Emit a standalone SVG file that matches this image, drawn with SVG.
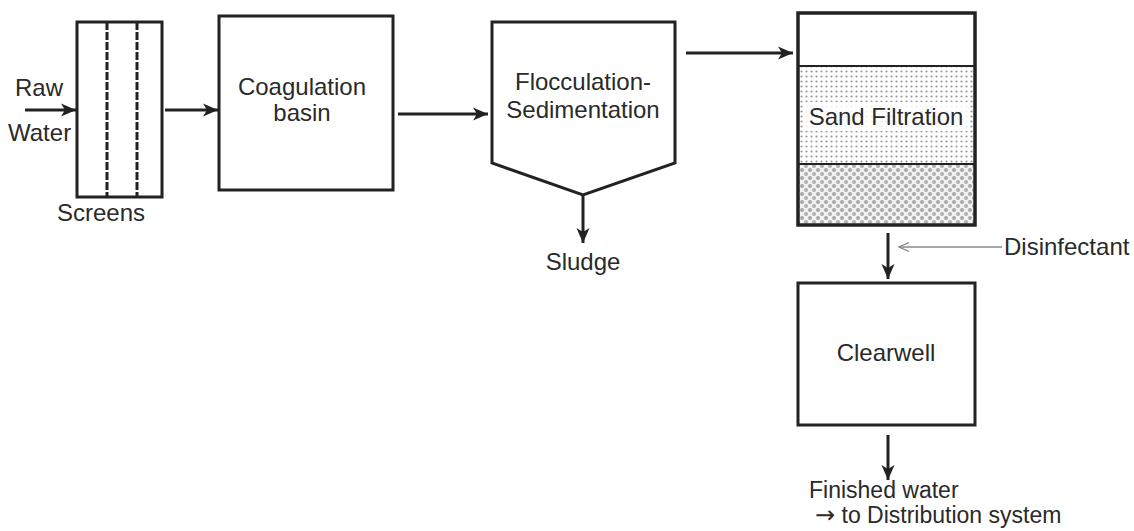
<svg xmlns="http://www.w3.org/2000/svg" width="1134" height="531" viewBox="0 0 1134 531">
<style>
.box{fill:#fff;stroke:#222;stroke-width:3}
.t{font-family:"Liberation Sans",Arial,sans-serif;font-size:24px;fill:#2a2a2a}
.c{text-anchor:middle}
.s{font-size:23px}
.arr{stroke:#222;stroke-width:3;fill:none;marker-end:url(#ah)}
</style>
<defs>
<marker id="ah" markerWidth="16" markerHeight="16" refX="15" refY="8" orient="auto" markerUnits="userSpaceOnUse">
<path d="M0,1.5 L15,8 L0,14.5 L4,8 Z" fill="#222"/>
</marker>
<marker id="open" markerWidth="12" markerHeight="12" refX="10" refY="6" orient="auto" markerUnits="userSpaceOnUse">
<path d="M0,1.5 L10,6 L0,10.5" fill="none" stroke="#888" stroke-width="1.3"/>
</marker>
<pattern id="fine" width="5" height="5" patternUnits="userSpaceOnUse">
<rect width="5" height="5" fill="#fff"/>
<circle cx="1.5" cy="1.5" r="1.1" fill="#999"/>
</pattern>
<pattern id="coarse" width="8" height="8" patternUnits="userSpaceOnUse">
<rect width="8" height="8" fill="#f2f2f2"/>
<circle cx="2" cy="2" r="2" fill="#a8a8a8"/>
<circle cx="6" cy="6" r="2" fill="#b0b0b0"/>
</pattern>
</defs>

<g id="connectors">
<line x1="25" y1="110" x2="76" y2="110" class="arr"/>
<line x1="165" y1="110" x2="218" y2="110" class="arr"/>
<line x1="398" y1="114" x2="488" y2="114" class="arr"/>
<line x1="583" y1="196" x2="583" y2="243" class="arr"/>
<line x1="686" y1="53" x2="793" y2="53" class="arr"/>
<line x1="888" y1="233" x2="888" y2="279" class="arr"/>
<line x1="1002" y1="247" x2="899" y2="247" stroke="#888" stroke-width="1.3" marker-end="url(#open)"/>
<line x1="888" y1="435" x2="888" y2="480" class="arr"/>
</g>

<g id="raw-water">
<text class="t" x="15" y="96">Raw</text>
<text class="t" x="8" y="141">Water</text>
</g>

<g id="screens">
<rect class="box" x="77" y="22" width="85" height="175" stroke-width="2.5"/>
<line x1="107" y1="22" x2="107" y2="197" stroke="#222" stroke-width="3" stroke-dasharray="8,2"/>
<line x1="137" y1="22" x2="137" y2="197" stroke="#222" stroke-width="3" stroke-dasharray="8,2"/>
<text class="t c" x="101" y="221">Screens</text>
</g>

<g id="coagulation">
<rect class="box" x="219" y="16" width="174" height="174"/>
<text class="t c" x="302" y="95">Coagulation</text>
<text class="t c" x="302" y="121">basin</text>
</g>

<g id="flocculation">
<path class="box" d="M492,22 L675,22 L675,163 L583,195 L492,163 Z"/>
<text class="t c" x="583" y="90">Flocculation-</text>
<text class="t c" x="583" y="118">Sedimentation</text>
<text class="t c" x="583" y="270">Sludge</text>
</g>

<g id="sand-filtration">
<rect x="798" y="66" width="177" height="98" fill="url(#fine)"/>
<rect x="798" y="164" width="177" height="61" fill="url(#coarse)"/>
<rect x="798" y="13" width="177" height="212" fill="none" stroke="#222" stroke-width="3.5"/>
<line x1="798" y1="66" x2="975" y2="66" stroke="#222" stroke-width="2"/>
<line x1="798" y1="164" x2="975" y2="164" stroke="#222" stroke-width="2"/>
<rect x="805" y="102" width="164" height="29" fill="#fff" opacity="0.85"/>
<text class="t c" x="886" y="125">Sand Filtration</text>
</g>

<g id="disinfectant">
<text class="t" x="1004" y="255">Disinfectant</text>
</g>

<g id="clearwell">
<rect class="box" x="798" y="283" width="177" height="142"/>
<text class="t c" x="886" y="361">Clearwell</text>
</g>

<g id="finished">
<text class="t s" x="809" y="498">Finished water</text>
<text class="t s" x="815" y="523"><tspan style="font-family:'DejaVu Sans',sans-serif;font-size:24px">→</tspan> to Distribution system</text>
</g>
</svg>
